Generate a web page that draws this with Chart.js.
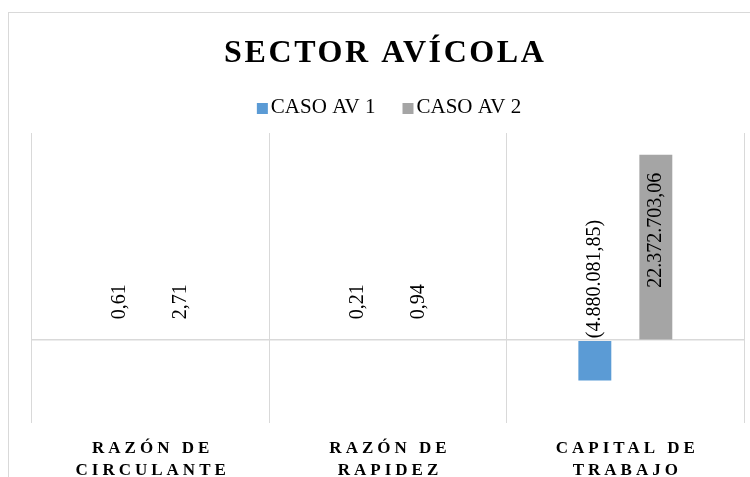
<!DOCTYPE html>
<html>
<head>
<meta charset="utf-8">
<script src="https://cdn.jsdelivr.net/npm/chart.js@4.4.1/dist/chart.umd.min.js"></script>
<style>
  html, body { margin: 0; background: #fff; }
  #wrap { width: 750px; height: 477px; }
</style>
</head>
<body>
<div id="wrap"><canvas id="c" width="750" height="477"></canvas></div>
<script>
const chartTitle = 'SECTOR AVÍCOLA';
const categories = [['RAZÓN DE', 'CIRCULANTE'], ['RAZÓN DE', 'RAPIDEZ'], ['CAPITAL DE', 'TRABAJO']];
const seriesNames = ['CASO AV 1', 'CASO AV 2'];
const casoAv1 = [0.61, 0.21, -4880081.85];
const casoAv2 = [2.71, 0.94, 22372703.06];

const serif = '"Liberation Serif", "Times New Roman", serif';
const gridColor = '#d9d9d9';
const colors = ['#5b9bd5', '#a5a5a5'];

// 0,61 / 22.372.703,06 / (4.880.081,85)
function fmt(v) {
  const parts = Math.abs(v).toFixed(2).split('.');
  const txt = parts[0].replace(/\B(?=(\d{3})+(?!\d))/g, '.') + ',' + parts[1];
  return v < 0 ? '(' + txt + ')' : txt;
}

// bars thinner than a pixel leave an antialiased smear on the zero line, skip them
function barColor(idx) {
  return c => Math.abs(c.raw || 0) < 100000 ? 'rgba(0,0,0,0)' : colors[idx];
}

const decor = {
  id: 'decor',
  beforeDraw(chart) {
    const ctx = chart.ctx;
    ctx.save();
    // outer frame
    ctx.strokeStyle = gridColor;
    ctx.lineWidth = 1;
    ctx.strokeRect(8.5, 12.5, 800, 520);

    // title, spaced capitals
    ctx.fillStyle = '#000';
    ctx.textBaseline = 'alphabetic';
    ctx.textAlign = 'left';
    ctx.font = 'bold 32px ' + serif;
    ctx.letterSpacing = '2.6px';
    const tw = ctx.measureText(chartTitle).width - 2.6;
    ctx.fillText(chartTitle, 384 - tw / 2, 62);

    // legend
    ctx.letterSpacing = '0px';
    ctx.font = '21px ' + serif;
    const items = chart.data.datasets.map((d, i) => ({
      text: d.label, color: colors[i], w: 14 + ctx.measureText(d.label).width
    }));
    const gap = 27;
    const total = items.reduce((a, b) => a + b.w, 0) + gap * (items.length - 1);
    let x = 389 - total / 2;
    items.forEach(it => {
      ctx.fillStyle = it.color;
      ctx.fillRect(x, 103, 11, 11);
      ctx.fillStyle = '#000';
      ctx.fillText(it.text, x + 14, 113);
      x += it.w + gap;
    });

    // category labels
    ctx.font = 'bold 17px ' + serif;
    ctx.letterSpacing = '4px';
    ctx.textAlign = 'center';
    const xs = chart.scales.x;
    categories.forEach((lines, i) => {
      const cx = xs.getPixelForValue(i) + 2;
      lines.forEach((ln, j) => ctx.fillText(ln, cx, 453 + j * 22));
    });
    ctx.restore();
  },
  afterDatasetsDraw(chart) {
    const ctx = chart.ctx;
    const y0 = chart.scales.y.getPixelForValue(0);
    ctx.save();
    ctx.font = '20px ' + serif;
    ctx.fillStyle = '#000';
    ctx.textBaseline = 'middle';
    chart.data.datasets.forEach((ds, di) => {
      chart.getDatasetMeta(di).data.forEach((bar, i) => {
        const v = ds.data[i];
        const h = Math.abs(bar.y - y0);
        let y, align;
        if (v >= 0 && h > 150) { y = bar.y + 18; align = 'right'; }
        else if (v < 0) { y = y0 - 2; align = 'left'; }
        else { y = y0 - 21; align = 'left'; }
        ctx.save();
        ctx.translate(bar.x, y);
        ctx.rotate(-Math.PI / 2);
        ctx.textAlign = align;
        ctx.fillText(fmt(v), 0, 0);
        ctx.restore();
      });
    });
    ctx.restore();
  }
};

new Chart(document.getElementById('c'), {
  type: 'bar',
  data: {
    labels: categories.map(c => c.join(' ')),
    datasets: [
      { label: seriesNames[0], data: casoAv1, backgroundColor: barColor(0), inflateAmount: 0 },
      { label: seriesNames[1], data: casoAv2, backgroundColor: barColor(1), inflateAmount: 0 }
    ]
  },
  options: {
    responsive: false,
    animation: false,
    categoryPercentage: 0.514,
    barPercentage: 0.54,
    layout: { padding: { left: 32, right: 6, top: 133, bottom: 54 } },
    plugins: {
      legend: { display: false },
      title: { display: false },
      tooltip: { enabled: false }
    },
    scales: {
      x: {
        grid: { color: gridColor, drawTicks: false, offset: true },
        border: { display: false },
        ticks: { display: false }
      },
      y: {
        z: 1,
        min: -10000000,
        max: 25000000,
        ticks: { display: false, stepSize: 5000000 },
        grid: {
          drawTicks: false,
          lineWidth: 1.5,
          color: c => c.tick.value === 0 ? gridColor : 'rgba(0,0,0,0)'
        },
        border: { display: false }
      }
    }
  },
  plugins: [decor]
});
</script>
</body>
</html>
